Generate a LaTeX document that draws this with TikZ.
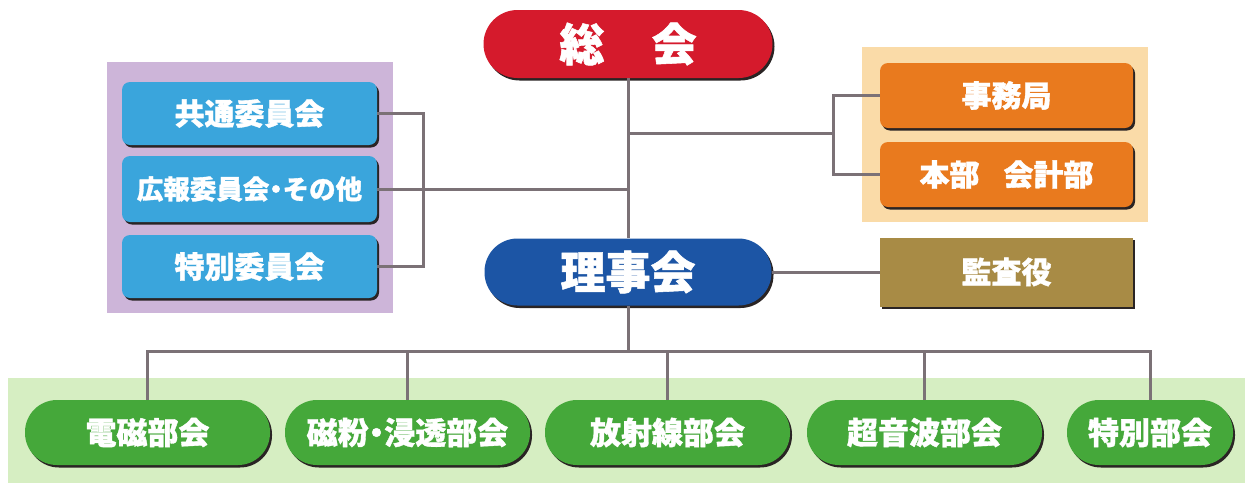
\documentclass[tikz,border=0pt]{standalone}
\usepackage{fontspec}
\newfontfamily\cjk{Noto Sans CJK JP}[BoldFeatures={FakeBold=1.2}]
\usetikzlibrary{shadows}
\definecolor{redbox}{HTML}{D51A2C}
\definecolor{navybox}{HTML}{1C55A5}
\definecolor{skybox}{HTML}{3AA5DC}
\definecolor{orangebox}{HTML}{E97A1E}
\definecolor{olivebox}{HTML}{A88B45}
\definecolor{greenbox}{HTML}{45A83A}
\definecolor{greenbg}{HTML}{D6EEC2}
\definecolor{purplebg}{HTML}{CDB5D9}
\definecolor{orangebg}{HTML}{FADBA8}
\definecolor{linecol}{HTML}{7B7176}
\definecolor{shadowcol}{HTML}{2A2424}
\tikzset{
  orgbox/.style={inner sep=0pt, text=white,
    drop shadow={shadow xshift=2pt, shadow yshift=-2.5pt, fill=shadowcol, opacity=1}},
  bigtext/.style={font=\cjk\bfseries\fontsize{45}{45}\selectfont},
  midtext/.style={font=\cjk\bfseries\fontsize{30}{30}\selectfont},
  smalltext/.style={font=\cjk\bfseries\fontsize{26.5}{26.5}\selectfont},
  grntext/.style={font=\cjk\bfseries\fontsize{31}{31}\selectfont},
  stadium/.style={orgbox, rounded corners=#1},
  rbox/.style={orgbox, rounded corners=8pt},
  conn/.style={draw=linecol, line width=3pt}
}
\newcommand{\nakaguro}{\hspace{-0.25em}・\hspace{-0.25em}}
\begin{document}
\begin{tikzpicture}[x=1pt,y=-1pt]
\useasboundingbox (0,0) rectangle (1256,483);
% background panels
\fill[purplebg] (107,62) rectangle (393,313);
\fill[orangebg] (862,47) rectangle (1148,222);
\fill[greenbg] (8,378) rectangle (1245,483);

% top
\node[stadium=34pt, bigtext, fill=redbox, minimum width=289pt, minimum height=68pt] (sokai) at (628,44) {総\hspace{1.05em}会};
\node[stadium=33pt, bigtext, fill=navybox, minimum width=287pt, minimum height=67pt] (riji) at (628,272) {理事会};

% left committees
\node[rbox, midtext, fill=skybox, minimum width=255pt, minimum height=63pt] (kyotsu) at (249.5,113.5) {共通委員会};
\node[rbox, smalltext, fill=skybox, minimum width=255pt, minimum height=66pt] (koho) at (249.5,189) {広報委員会\nakaguro その他};
\node[rbox, midtext, fill=skybox, minimum width=255pt, minimum height=63pt] (tokubetsu) at (249.5,266.5) {特別委員会};

% right
\node[rbox, midtext, fill=orangebox, minimum width=253pt, minimum height=65pt] (jimu) at (1006.5,95.5) {事務局};
\node[rbox, midtext, fill=orangebox, minimum width=253pt, minimum height=65pt] (honbu) at (1006.5,174.5) {本部\hspace{0.8em}会計部};
\node[orgbox, midtext, fill=olivebox, minimum width=253pt, minimum height=69pt] (kansa) at (1006.5,272) {監査役};

% bottom groups
\node[stadium=32pt, grntext, fill=greenbox, minimum width=245pt, minimum height=65pt] (g1) at (147.5,432.5) {電磁部会};
\node[stadium=32pt, grntext, fill=greenbox, minimum width=245pt, minimum height=65pt] (g2) at (407.5,432.5) {磁粉\nakaguro 浸透部会};
\node[stadium=32pt, grntext, fill=greenbox, minimum width=245pt, minimum height=65pt] (g3) at (667.5,432.5) {放射線部会};
\node[stadium=32pt, grntext, fill=greenbox, minimum width=235pt, minimum height=65pt] (g4) at (924.5,432.5) {超音波部会};
\node[stadium=32pt, grntext, fill=greenbox, minimum width=166pt, minimum height=65pt] (g5) at (1150,432.5) {特別部会};

% connectors
\coordinate (rb) at (833,133);
\coordinate (lb) at (423,189);
\coordinate (bus) at (628,351);
\draw[conn] (sokai.south) -- (riji.north);
\draw[conn] (rb) -- (rb -| sokai.south);
\draw[conn] (jimu.west) -| (rb) |- (honbu.west);
\draw[conn] (koho.east) -- (koho.east -| sokai.south);
\draw[conn] (kyotsu.east) -| (lb) |- (tokubetsu.east);
\draw[conn] (riji.east) -- (kansa.west);
\draw[conn] (riji.south) -- (bus);
\draw[conn] (g1.north) -- (g1.north |- bus) -- (g5.north |- bus) -- (g5.north);
\draw[conn] (g2.north) -- (g2.north |- bus);
\draw[conn] (g3.north) -- (g3.north |- bus);
\draw[conn] (g4.north) -- (g4.north |- bus);
\end{tikzpicture}
\end{document}
